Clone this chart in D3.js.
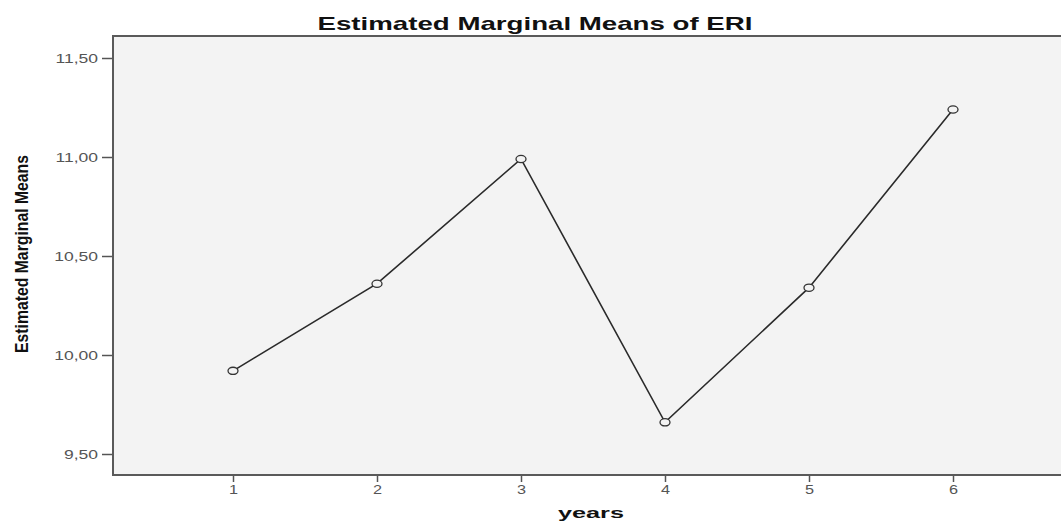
<!DOCTYPE html>
<html>
<head>
<meta charset="utf-8">
<script src="https://cdn.jsdelivr.net/npm/d3@7"></script>
<style>
  html, body { margin: 0; padding: 0; background: #ffffff; }
  svg { display: block; }
</style>
</head>
<body>
<svg id="chart" width="1061" height="523"></svg>
<script>
// ---- data ----
const years = [1, 2, 3, 4, 5, 6];
const means = [9.92, 10.36, 10.99, 9.66, 10.34, 11.24];
const yTicks = [9.5, 10.0, 10.5, 11.0, 11.5];
const titleText = "Estimated Marginal Means of ERI";
const xLabel = "years";
const yLabel = "Estimated Marginal Means";

const svg = d3.select("#chart");
const W = 1061, H = 523;

const x = d3.scaleLinear().domain([1, 6]).range([233, 953]);
const y = d3.scaleLinear().domain([9.5, 11.5]).range([454, 58]);

const plotLeft = x(0.1667), plotRight = x(6.8);
const plotTop = y(11.611), plotBottom = y(9.394);

// plot background
svg.append("rect")
  .attr("x", plotLeft).attr("y", plotTop)
  .attr("width", plotRight - plotLeft).attr("height", plotBottom - plotTop)
  .attr("fill", "#f3f3f3");

// stretch helper
function stretch(sel, factor) {
  sel.each(function () {
    const w = this.getComputedTextLength();
    d3.select(this).attr("textLength", w * factor).attr("lengthAdjust", "spacingAndGlyphs");
  });
}

// axes
const fmt = v => d3.format(".2f")(v).replace(".", ",");
const yAxis = d3.axisLeft(y).tickValues(yTicks).tickFormat(fmt).tickSize(11).tickPadding(4);
const gy = svg.append("g").attr("transform", `translate(${plotLeft},0)`).call(yAxis);
gy.select(".domain").remove();
gy.selectAll(".tick line").attr("stroke", "#555").attr("stroke-width", 1.5);
gy.selectAll(".tick text")
  .attr("fill", "#555").attr("font-family", "Liberation Sans, Arial, sans-serif")
  .attr("font-size", 12.5).attr("dy", "0.35em");
stretch(gy.selectAll(".tick text"), 1.4);

const xAxis = d3.axisBottom(x).tickValues(years).tickFormat(d3.format("d")).tickSize(7).tickPadding(3);
const gx = svg.append("g").attr("transform", `translate(0,${plotBottom})`).call(xAxis);
gx.select(".domain").remove();
gx.selectAll(".tick line").attr("stroke", "#555").attr("stroke-width", 1.5);
gx.selectAll(".tick text")
  .attr("fill", "#555").attr("font-family", "Liberation Sans, Arial, sans-serif")
  .attr("font-size", 12.5);
stretch(gx.selectAll(".tick text"), 1.3);

// frame (left, top, bottom)
svg.append("path")
  .attr("d", `M${plotRight},${plotTop}H${plotLeft}V${plotBottom}H${plotRight}`)
  .attr("fill", "none").attr("stroke", "#5a5a5a").attr("stroke-width", 2);

// line
const pts = years.map((d, i) => [d, means[i]]);
svg.append("path")
  .datum(pts)
  .attr("d", d3.line().x(d => x(d[0])).y(d => y(d[1])))
  .attr("fill", "none").attr("stroke", "#2a2a2a").attr("stroke-width", 1.6);

// markers
svg.selectAll("ellipse.pt").data(pts).enter().append("ellipse")
  .attr("class", "pt")
  .attr("cx", d => x(d[0])).attr("cy", d => y(d[1]))
  .attr("rx", 5).attr("ry", 3.6)
  .attr("fill", "#f3f3f3").attr("stroke", "#333").attr("stroke-width", 1.3);

// title
const t = svg.append("text")
  .attr("x", 535).attr("y", 30).attr("text-anchor", "middle")
  .attr("font-family", "Liberation Sans, Arial, sans-serif").attr("font-weight", "bold")
  .attr("font-size", 19).attr("fill", "#111").text(titleText);
t.attr("textLength", 435).attr("lengthAdjust", "spacingAndGlyphs");

// x label
svg.append("text")
  .attr("x", 591).attr("y", 518).attr("text-anchor", "middle")
  .attr("font-family", "Liberation Sans, Arial, sans-serif").attr("font-weight", "bold")
  .attr("font-size", 15).attr("fill", "#111").text(xLabel)
  .attr("textLength", 66).attr("lengthAdjust", "spacingAndGlyphs");

// y label
svg.append("text")
  .attr("transform", "translate(28,254) rotate(-90)")
  .attr("text-anchor", "middle")
  .attr("font-family", "Liberation Sans Narrow, Arial Narrow, Liberation Sans, sans-serif")
  .attr("font-weight", "bold")
  .attr("font-size", 19).attr("fill", "#111").text(yLabel)
  .attr("textLength", 198).attr("lengthAdjust", "spacingAndGlyphs");
</script>
</body>
</html>
